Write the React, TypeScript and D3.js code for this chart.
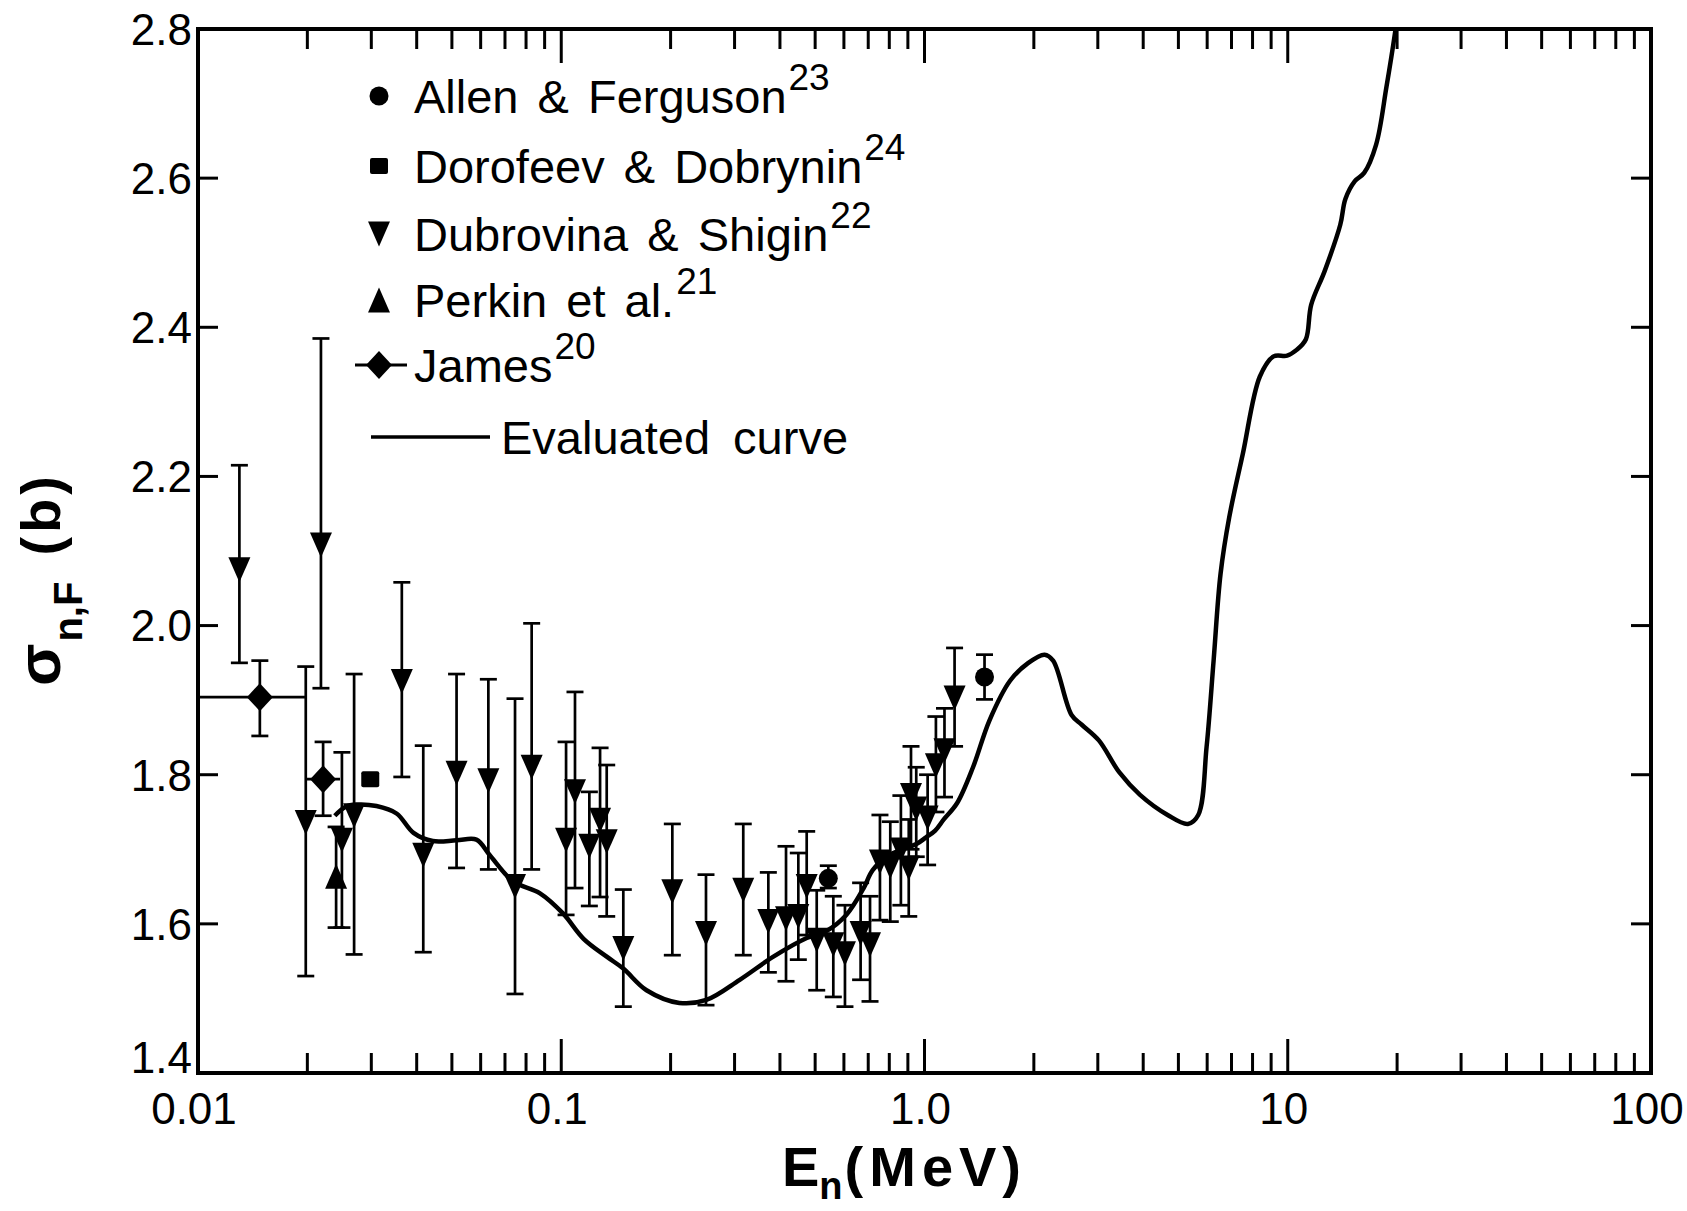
import React from "react";
import * as d3 from "d3";

const W = 1687;
const H = 1211;
const PLOT = { left: 198, right: 1651, top: 29, bottom: 1073 };
const FONT = "'Liberation Sans', Arial, sans-serif";

// ---- axis ticks ----
const xMajor = [0.01, 0.1, 1, 10, 100];
const xLabels = ["0.01", "0.1", "1.0", "10", "100"];
const xMinorMultipliers = [2, 3, 4, 5, 6, 7, 8, 9];
const yTicks = [1.4, 1.6, 1.8, 2.0, 2.2, 2.4, 2.6, 2.8];
const yLabels = ["1.4", "1.6", "1.8", "2.0", "2.2", "2.4", "2.6", "2.8"];

// ---- data (E in MeV, sigma in b) ----
const allenFerguson = [
  { e: 0.5435, s: 1.661, lo: 1.648, hi: 1.678 },
  { e: 1.463, s: 1.931, lo: 1.901, hi: 1.961 },
];

const dorofeevDobrynin = [{ e: 0.0298, s: 1.794 }];

const dubrovinaShigin = [
  { e: 0.0130, s: 2.075, lo: 1.950, hi: 2.215 },
  { e: 0.0198, s: 1.736, lo: 1.530, hi: 1.945 },
  { e: 0.0218, s: 2.108, lo: 1.916, hi: 2.385 },
  { e: 0.0249, s: 1.712, lo: 1.595, hi: 1.830 },
  { e: 0.0269, s: 1.745, lo: 1.559, hi: 1.935 },
  { e: 0.0364, s: 1.925, lo: 1.797, hi: 2.058 },
  { e: 0.0417, s: 1.692, lo: 1.562, hi: 1.839 },
  { e: 0.0515, s: 1.802, lo: 1.675, hi: 1.935 },
  { e: 0.0630, s: 1.792, lo: 1.673, hi: 1.928 },
  { e: 0.0746, s: 1.650, lo: 1.506, hi: 1.902 },
  { e: 0.0829, s: 1.810, lo: 1.673, hi: 2.003 },
  { e: 0.1031, s: 1.712, lo: 1.612, hi: 1.844 },
  { e: 0.1091, s: 1.777, lo: 1.648, hi: 1.911 },
  { e: 0.1195, s: 1.704, lo: 1.624, hi: 1.777 },
  { e: 0.1279, s: 1.739, lo: 1.636, hi: 1.836 },
  { e: 0.1334, s: 1.710, lo: 1.610, hi: 1.813 },
  { e: 0.1482, s: 1.567, lo: 1.489, hi: 1.646 },
  { e: 0.2022, s: 1.643, lo: 1.558, hi: 1.734 },
  { e: 0.2503, s: 1.587, lo: 1.491, hi: 1.666 },
  { e: 0.3170, s: 1.645, lo: 1.558, hi: 1.734 },
  { e: 0.3716, s: 1.603, lo: 1.535, hi: 1.669 },
  { e: 0.4157, s: 1.607, lo: 1.523, hi: 1.704 },
  { e: 0.4494, s: 1.610, lo: 1.552, hi: 1.695 },
  { e: 0.4739, s: 1.650, lo: 1.585, hi: 1.724 },
  { e: 0.505, s: 1.578, lo: 1.511, hi: 1.645 },
  { e: 0.561, s: 1.572, lo: 1.502, hi: 1.637 },
  { e: 0.604, s: 1.560, lo: 1.489, hi: 1.625 },
  { e: 0.667, s: 1.587, lo: 1.525, hi: 1.655 },
  { e: 0.708, s: 1.572, lo: 1.496, hi: 1.637 },
  { e: 0.754, s: 1.683, lo: 1.605, hi: 1.746 },
  { e: 0.805, s: 1.677, lo: 1.603, hi: 1.737 },
  { e: 0.861, s: 1.699, lo: 1.625, hi: 1.772 },
  { e: 0.905, s: 1.675, lo: 1.610, hi: 1.740 },
  { e: 0.918, s: 1.772, lo: 1.700, hi: 1.838 },
  { e: 0.949, s: 1.754, lo: 1.690, hi: 1.810 },
  { e: 1.020, s: 1.742, lo: 1.679, hi: 1.800 },
  { e: 1.075, s: 1.812, lo: 1.750, hi: 1.878 },
  { e: 1.135, s: 1.832, lo: 1.770, hi: 1.889 },
  { e: 1.210, s: 1.903, lo: 1.838, hi: 1.970 },
];

const perkin = [{ e: 0.0240, s: 1.664, lo: 1.595, hi: 1.730 }];

const james = [
  { e: 0.0148, s: 1.904, lo: 1.852, hi: 1.953, eLo: 0.01, eHi: 0.0197 },
  { e: 0.0221, s: 1.794, lo: 1.745, hi: 1.844, eLo: 0.0199, eHi: 0.0246 },
];

const evaluatedE = [
  0.0238, 0.0255, 0.0273, 0.031, 0.0352, 0.0392, 0.0443, 0.0515, 0.0584, 0.0636,
  0.0737, 0.0874, 0.1011, 0.1152, 0.1334, 0.1482, 0.1717, 0.2114, 0.2508, 0.31,
  0.3837, 0.474, 0.535, 0.609, 0.68, 0.72, 0.8, 0.87, 0.95, 1.01, 1.07, 1.13,
  1.23, 1.36, 1.51, 1.72, 1.92, 2.14, 2.26, 2.54, 2.71, 3.02, 3.44, 3.92, 4.67,
  5.31, 5.67, 5.98, 6.25, 6.53, 6.9, 7.52, 8.38, 9.14, 9.96, 10.6, 11.22, 11.6,
  12.65, 13.95, 14.41, 15.3, 16.23, 17.51, 18.69, 19.74, 20.3,
];
const evaluatedS = [
  1.745, 1.757, 1.760, 1.758, 1.748, 1.722, 1.711, 1.712, 1.713, 1.692,
  1.657, 1.641, 1.614, 1.580, 1.556, 1.540, 1.511, 1.494, 1.498, 1.525,
  1.556, 1.581, 1.590, 1.612, 1.648, 1.672, 1.692, 1.700, 1.707, 1.716, 1.725, 1.740,
  1.762, 1.810, 1.873, 1.926, 1.949, 1.961, 1.953, 1.880, 1.867, 1.846, 1.803, 1.773, 1.746,
  1.734, 1.746, 1.838, 1.953, 2.069, 2.145, 2.230, 2.334, 2.361, 2.362, 2.370, 2.384, 2.430,
  2.476, 2.5375, 2.572, 2.596, 2.607, 2.645, 2.722, 2.795, 2.84,
];

const legendItems = [
  { marker: "circle", label: "Allen & Ferguson", sup: "23" },
  { marker: "square", label: "Dorofeev & Dobrynin", sup: "24" },
  { marker: "down", label: "Dubrovina & Shigin", sup: "22" },
  { marker: "up", label: "Perkin et al.", sup: "21" },
  { marker: "diamond", label: "James", sup: "20" },
  { marker: "line", label: "Evaluated curve", sup: "" },
];

const x = d3.scaleLog().domain([0.01, 100]).range([PLOT.left, PLOT.right]);
const y = d3.scaleLinear().domain([1.4, 2.8]).range([PLOT.bottom, PLOT.top]);

function Marker({ type, cx, cy }: { type: string; cx: number; cy: number }) {
  if (type === "circle") return <circle cx={cx} cy={cy} r={9.5} fill="#000" />;
  if (type === "square")
    return <rect x={cx - 9} y={cy - 8} width={18} height={16} rx={2} fill="#000" />;
  if (type === "down")
    return (
      <path d={`M${cx - 11},${cy - 12.5}L${cx + 11},${cy - 12.5}L${cx},${cy + 12.5}Z`} fill="#000" />
    );
  if (type === "up")
    return (
      <path d={`M${cx - 11},${cy + 12.5}L${cx + 11},${cy + 12.5}L${cx},${cy - 12.5}Z`} fill="#000" />
    );
  if (type === "diamond")
    return (
      <path d={`M${cx - 13},${cy}L${cx},${cy - 14}L${cx + 13},${cy}L${cx},${cy + 14}Z`} fill="#000" />
    );
  return null;
}

function ErrBar({ e, lo, hi }: { e: number; lo: number; hi: number }) {
  const px = x(e);
  const cap = 8.5;
  return (
    <g stroke="#000" strokeWidth={2.7} fill="none">
      <line x1={px} x2={px} y1={y(lo)} y2={y(hi)} />
      <line x1={px - cap} x2={px + cap} y1={y(lo)} y2={y(lo)} />
      <line x1={px - cap} x2={px + cap} y1={y(hi)} y2={y(hi)} />
    </g>
  );
}

export default function App() {
  const minorTicks: number[] = [];
  for (let d = 0; d < xMajor.length - 1; d++) {
    for (const m of xMinorMultipliers) minorTicks.push(xMajor[d] * m);
  }
  const curvePts = evaluatedE.map((e, i) => [x(e), y(evaluatedS[i])] as [number, number]);
  const curvePath = d3.line().curve(d3.curveCatmullRom.alpha(0.5))(curvePts) || "";

  const legendX = 379;
  const legendTextX = 414;
  const legendBase = [113, 183, 251, 317, 382, 454];

  return (
    <svg
      width={W}
      height={H}
      viewBox={`0 0 ${W} ${H}`}
      style={{ position: "absolute", left: 0, top: 0, background: "#fff", display: "block" }}
      fontFamily={FONT}
    >
      <defs>
        <clipPath id="plotClip">
          <rect x={PLOT.left} y={PLOT.top} width={PLOT.right - PLOT.left} height={PLOT.bottom - PLOT.top} />
        </clipPath>
      </defs>
      <rect x={0} y={0} width={W} height={H} fill="#fff" />

      {/* ticks */}
      <g stroke="#000" strokeWidth={3}>
        {xMajor.slice(1, -1).map((v) => (
          <g key={"M" + v}>
            <line x1={x(v)} x2={x(v)} y1={PLOT.bottom} y2={PLOT.bottom - 34} />
            <line x1={x(v)} x2={x(v)} y1={PLOT.top} y2={PLOT.top + 34} />
          </g>
        ))}
        {minorTicks.map((v) => (
          <g key={"m" + v}>
            <line x1={x(v)} x2={x(v)} y1={PLOT.bottom} y2={PLOT.bottom - 20} />
            <line x1={x(v)} x2={x(v)} y1={PLOT.top} y2={PLOT.top + 20} />
          </g>
        ))}
        {yTicks.slice(1, -1).map((v) => (
          <g key={"y" + v}>
            <line x1={PLOT.left} x2={PLOT.left + 20} y1={y(v)} y2={y(v)} />
            <line x1={PLOT.right} x2={PLOT.right - 20} y1={y(v)} y2={y(v)} />
          </g>
        ))}
      </g>

      {/* frame */}
      <rect
        x={PLOT.left}
        y={PLOT.top}
        width={PLOT.right - PLOT.left}
        height={PLOT.bottom - PLOT.top}
        fill="none"
        stroke="#000"
        strokeWidth={4}
      />

      {/* tick labels */}
      <g fontSize={44} fill="#000">
        {xMajor.map((v, i) => (
          <text key={"xl" + v} x={x(v) - 4} y={1124} textAnchor="middle">
            {xLabels[i]}
          </text>
        ))}
        {yTicks.map((v, i) => (
          <text
            key={"yl" + v}
            x={PLOT.left - 6}
            y={y(v)}
            dy={i === 0 ? "0.0em" : "0.36em"}
            textAnchor="end"
          >
            {yLabels[i]}
          </text>
        ))}
      </g>

      {/* axis titles */}
      <text x={782} y={1186} fontSize={56} fontWeight="bold" fill="#000">
        E
        <tspan fontSize={38} dy={13}>n</tspan>
        <tspan fontSize={56} dy={-13} dx={2} letterSpacing={6}>(MeV)</tspan>
      </text>
      <text transform="translate(60,686) rotate(-90)" fontWeight="bold" fill="#000">
        <tspan fontSize={62}>σ</tspan>
        <tspan fontSize={40} dy={22} dx={2}>n,F</tspan>
        <tspan fontSize={56} dy={-22} dx={26} letterSpacing={4}>(b)</tspan>
      </text>

      {/* data */}
      <g clipPath="url(#plotClip)">
        <path d={curvePath} fill="none" stroke="#000" strokeWidth={4.5} strokeLinejoin="round" />

        {james.map((d, i) => (
          <g key={"j" + i}>
            <line x1={x(d.eLo)} x2={x(d.eHi)} y1={y(d.s)} y2={y(d.s)} stroke="#000" strokeWidth={2.7} />
            <ErrBar e={d.e} lo={d.lo} hi={d.hi} />
            <Marker type="diamond" cx={x(d.e)} cy={y(d.s)} />
          </g>
        ))}
        {perkin.map((d, i) => (
          <g key={"p" + i}>
            <ErrBar e={d.e} lo={d.lo} hi={d.hi} />
            <Marker type="up" cx={x(d.e)} cy={y(d.s)} />
          </g>
        ))}
        {dubrovinaShigin.map((d, i) => (
          <g key={"d" + i}>
            <ErrBar e={d.e} lo={d.lo} hi={d.hi} />
            <Marker type="down" cx={x(d.e)} cy={y(d.s)} />
          </g>
        ))}
        {allenFerguson.map((d, i) => (
          <g key={"a" + i}>
            <ErrBar e={d.e} lo={d.lo} hi={d.hi} />
            <Marker type="circle" cx={x(d.e)} cy={y(d.s)} />
          </g>
        ))}
        {dorofeevDobrynin.map((d, i) => (
          <Marker key={"r" + i} type="square" cx={x(d.e)} cy={y(d.s)} />
        ))}
      </g>

      {/* legend */}
      <g fill="#000">
        {legendItems.map((it, i) => {
          const base = legendBase[i];
          const cy = base - 17;
          if (it.marker === "line") {
            return (
              <g key={it.label}>
                <line x1={371} x2={490} y1={cy} y2={cy} stroke="#000" strokeWidth={3.5} />
                <text x={501} y={base} fontSize={47} wordSpacing={10}>
                  {it.label}
                </text>
              </g>
            );
          }
          return (
            <g key={it.label}>
              {it.marker === "diamond" && (
                <line x1={355} x2={407} y1={cy} y2={cy} stroke="#000" strokeWidth={3} />
              )}
              <Marker type={it.marker} cx={legendX} cy={cy} />
              <text x={legendTextX} y={base} fontSize={47} wordSpacing={6}>
                {it.label}
                <tspan fontSize={37} dy={-23} dx={2}>
                  {it.sup}
                </tspan>
              </text>
            </g>
          );
        })}
      </g>
    </svg>
  );
}
